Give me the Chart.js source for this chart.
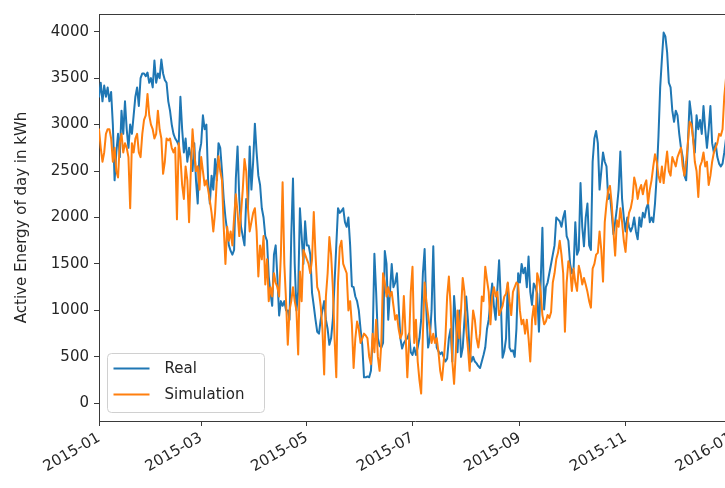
<!DOCTYPE html>
<html>
<head>
<meta charset="utf-8">
<script src="https://cdn.jsdelivr.net/npm/chart.js@4.4.1/dist/chart.umd.min.js"></script>
<style>
  html, body { margin: 0; padding: 0; background: #ffffff; overflow: hidden; }
  #wrap { width: 725px; height: 488px; overflow: hidden; position: relative; }
  canvas { display: block; }
</style>
</head>
<body>
<div id="wrap"><canvas id="chart" width="760" height="488" style="width:760px;height:488px"></canvas></div>
<script>
// Daily active energy for 2015 (index 0 = 2015-01-01), kWh
const startDate = '2015-01-01';

const realValues = [
  3300,3450,3250,3420,3300,3400,3250,3350,3000,2400,
  2700,2900,2650,3150,2900,3250,2950,2750,3000,2900,
  3100,3300,3400,3200,3500,3550,3550,3520,3560,3450,
  3500,3400,3690,3450,3550,3500,3700,3550,3480,3450,
  3250,3150,3000,2900,2850,2820,2780,3300,2950,2700,
  2850,2600,2750,2650,2500,2800,2400,2150,2700,2800,
  3100,2950,3000,2400,2150,2450,2300,2630,2400,2800,
  2750,2500,2200,2000,1850,1700,1640,1600,1650,2420,
  2765,2200,1900,1800,1700,2200,2100,2765,2300,2600,
  3010,2700,2450,2350,2100,2000,1800,1750,1365,1190,
  1050,1600,1700,1350,945,1100,1050,1100,1000,1000,
  900,1800,2420,1500,1000,1200,2100,1800,1500,1960,
  1700,1700,1600,1190,1050,900,770,750,900,1000,
  1100,900,800,630,700,900,1300,1700,2100,2050,
  2070,2100,1950,1900,2000,1700,1260,1250,1150,1100,
  1000,800,630,280,280,290,280,350,700,1610,
  1200,700,620,600,650,1640,1500,900,1200,1500,
  1250,1300,1400,1050,700,590,650,680,700,750,
  550,520,600,520,600,700,900,1400,1660,1000,
  600,700,1000,1690,900,600,560,530,550,500,
  450,480,700,800,450,1155,900,550,1000,500,
  600,900,1150,900,550,450,500,450,430,400,
  380,450,520,600,800,900,1100,1290,1050,900,
  1230,1540,1100,490,560,700,1290,600,560,570,
  500,800,1400,1300,1500,1400,1460,1250,1580,1200,
  1060,1290,1250,1180,770,1300,1890,1010,1250,1300,
  1400,1500,1600,1700,2000,1980,1960,1900,2000,2070,
  1800,1750,1500,1400,1450,1950,1600,1650,2370,1900,
  1690,2000,2150,1700,1650,2600,2850,2930,2800,2300,
  2500,2700,2600,2550,2200,2250,2050,1820,1950,2100,
  2300,2710,2200,2000,1850,2000,1900,1850,1900,2000,
  1850,1765,2000,1900,2050,2000,2100,2150,1950,2000,
  1950,2150,2450,2870,3400,3710,3990,3950,3780,3450,
  3400,3150,3030,3150,3100,2900,2750,2650,2450,2400,
  2800,3250,3100,2850,2700,3100,2950,3050,2900,3200,
  2950,2750,2950,3200,2800,2700,2800,2650,2580,2550,
  2580,2700,2850,3000,3050
];

const simulationValues = [
  2950,2750,2600,2700,2900,2950,2950,2850,2600,2750,
  2500,2430,2800,2900,2700,2800,2750,2650,2100,2800,
  2700,2850,2900,2700,2650,2900,3050,3100,3330,3100,
  3000,2950,2850,2900,3150,2950,2850,2470,2600,2850,
  2830,2850,2750,2700,2750,1980,2800,2650,2350,2200,
  2550,2400,1950,2500,2950,2700,2500,2550,2300,2650,
  2500,2345,2400,2300,2180,2050,1850,2050,2400,2660,
  2500,2400,1900,1500,1900,1750,1850,1700,2000,2250,
  2050,1800,2050,2300,2630,2500,2100,1850,1950,2050,
  2100,1850,1365,1700,1550,1800,1280,1550,1100,1250,
  1150,1400,1300,1250,1150,1600,2380,1500,1100,630,
  1000,1100,1250,1100,1000,525,1420,1100,1650,1600,
  1550,1500,1400,1550,2060,1600,1250,1200,1050,800,
  310,1150,1400,1790,1600,1250,700,280,1300,1680,
  1750,1500,1450,1400,1000,1100,850,380,700,880,
  800,650,700,750,730,700,500,420,750,550,
  900,500,350,650,1400,1300,1150,1250,1150,1200,
  1050,900,950,800,700,750,1155,750,280,650,
  1200,1470,650,900,450,250,105,750,1300,1100,
  950,800,650,750,650,700,550,350,250,450,
  700,1150,1365,1050,450,210,550,1000,700,1000,
  1350,1200,800,600,350,700,1000,900,700,600,
  750,1150,1100,1470,1330,1200,850,1150,1250,1150,
  1200,950,1000,1050,1150,1180,1300,1100,950,1200,
  1250,1300,1280,1000,850,900,750,900,700,450,
  900,1050,850,1400,1330,1200,950,850,880,950,
  920,980,1300,1400,1550,1620,1750,1600,1400,770,
  1300,1530,1450,1210,1450,1300,1210,1480,1400,1280,
  1350,1280,1200,1100,1030,1450,1500,1600,1620,1850,
  1650,1310,1950,2150,2300,2340,2150,1850,1590,1970,
  1900,2100,1950,1750,1630,1900,2050,2100,2200,2430,
  2350,2200,2300,2350,2250,2350,2400,2150,2300,2400,
  2550,2680,2600,2450,2380,2550,2370,2550,2710,2500,
  2450,2650,2600,2550,2650,2700,2750,2550,2450,2600,
  2800,3030,3000,2850,2600,2500,2220,2550,2600,2700,
  2550,2600,2350,2450,2600,2700,2750,2800,2900,2880,
  2950,3300,3500,3450,3300
];

const seriesNames = ['Real', 'Simulation'];
const xTickLabels = ['2015-01', '2015-03', '2015-05', '2015-07', '2015-09', '2015-11', '2016-01'];
const yTickValues = [0, 500, 1000, 1500, 2000, 2500, 3000, 3500, 4000];
const yAxisTitle = 'Active Energy of day in kWh';

// day offset of a "YYYY-MM" month start from the series start
const MS_PER_DAY = 86400000;
const startMs = Date.parse(startDate + 'T00:00:00Z');
const dayOffset = (ym) => (Date.parse(ym + '-01T00:00:00Z') - startMs) / MS_PER_DAY;
const xTickDays = xTickLabels.map(dayOffset);

const toPoints = (values) => values.map((v, i) => ({ x: i, y: v }));

const FONT = { family: 'DejaVu Sans', size: 15 };
const INK = '#262626';
const SPINE = '#3a3a3a';

// top/right frame lines and the in-plot legend
const framePlugin = {
  id: 'frameAndLegend',
  afterDraw(chart) {
    const { ctx, chartArea: a } = chart;
    ctx.save();
    ctx.strokeStyle = SPINE;
    ctx.lineWidth = 1;
    ctx.beginPath();
    ctx.moveTo(Math.round(a.left) + 0.5, Math.round(a.top) + 0.5);
    ctx.lineTo(Math.round(a.right) + 0.5, Math.round(a.top) + 0.5);
    ctx.lineTo(Math.round(a.right) + 0.5, Math.round(a.bottom) + 0.5);
    ctx.stroke();

    // legend box, lower left inside the axes
    const bx = a.left + 8.5, by = a.bottom - 67.5, bw = 157, bh = 59, r = 4;
    ctx.beginPath();
    ctx.moveTo(bx + r, by);
    ctx.lineTo(bx + bw - r, by);
    ctx.quadraticCurveTo(bx + bw, by, bx + bw, by + r);
    ctx.lineTo(bx + bw, by + bh - r);
    ctx.quadraticCurveTo(bx + bw, by + bh, bx + bw - r, by + bh);
    ctx.lineTo(bx + r, by + bh);
    ctx.quadraticCurveTo(bx, by + bh, bx, by + bh - r);
    ctx.lineTo(bx, by + r);
    ctx.quadraticCurveTo(bx, by, bx + r, by);
    ctx.closePath();
    ctx.fillStyle = 'rgba(255,255,255,0.8)';
    ctx.fill();
    ctx.strokeStyle = '#d0d0d0';
    ctx.stroke();

    ctx.font = `${FONT.size}px "${FONT.family}"`;
    ctx.textBaseline = 'middle';
    ctx.textAlign = 'left';
    chart.data.datasets.forEach((ds, i) => {
      const ly = by + 15 + i * 26;
      ctx.strokeStyle = ds.borderColor;
      ctx.lineWidth = 2;
      ctx.beginPath();
      ctx.moveTo(bx + 6, ly);
      ctx.lineTo(bx + 42, ly);
      ctx.stroke();
      ctx.fillStyle = INK;
      ctx.fillText(ds.label, bx + 57, ly + 1);
    });
    ctx.restore();
  }
};

new Chart(document.getElementById('chart'), {
  type: 'line',
  data: {
    datasets: [
      { label: seriesNames[0], data: toPoints(realValues), borderColor: '#1f77b4', backgroundColor: '#1f77b4', order: 1 },
      { label: seriesNames[1], data: toPoints(simulationValues), borderColor: '#ff7f0e', backgroundColor: '#ff7f0e', order: 0 }
    ]
  },
  options: {
    responsive: false,
    animation: false,
    devicePixelRatio: 1,
    layout: { padding: { left: 0, top: 5, right: 28.8, bottom: 0 } },
    elements: {
      point: { radius: 0, hoverRadius: 0 },
      line: { borderWidth: 2, tension: 0, fill: false, borderJoinStyle: 'round', borderCapStyle: 'round' }
    },
    plugins: { legend: { display: false }, tooltip: { enabled: false } },
    scales: {
      x: {
        type: 'linear',
        min: 0,
        max: 365,
        afterBuildTicks: (s) => { s.ticks = xTickDays.map((v) => ({ value: v })); },
        afterFit: (s) => { s.height = 67; },
        ticks: {
          autoSkip: false,
          minRotation: 30,
          maxRotation: 30,
          padding: 3,
          color: INK,
          font: FONT,
          callback: (v, i) => xTickLabels[i]
        },
        grid: { drawOnChartArea: false, drawTicks: true, tickLength: 5, color: SPINE, tickColor: SPINE },
        border: { display: true, color: SPINE, width: 1 }
      },
      y: {
        type: 'linear',
        min: -190,
        max: 4190,
        afterBuildTicks: (s) => { s.ticks = yTickValues.map((v) => ({ value: v })); },
        afterFit: (s) => { s.width = 99; },
        ticks: { padding: 5, color: INK, font: FONT, callback: (v) => String(v) },
        title: {
          display: true,
          text: yAxisTitle,
          color: INK,
          font: FONT,
          padding: { top: 13, bottom: 0 }
        },
        grid: { drawOnChartArea: false, drawTicks: true, tickLength: 5, color: SPINE, tickColor: SPINE },
        border: { display: true, color: SPINE, width: 1 }
      }
    }
  },
  plugins: [framePlugin]
});
</script>
</body>
</html>
